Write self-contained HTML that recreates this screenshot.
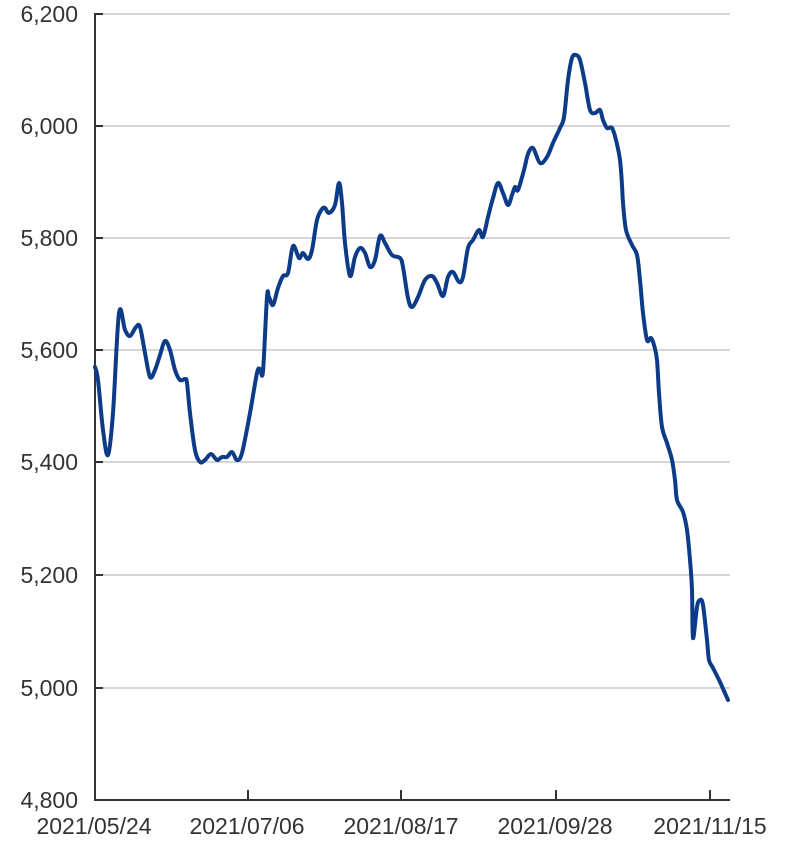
<!DOCTYPE html>
<html>
<head>
<meta charset="utf-8">
<style>
  html, body { margin: 0; padding: 0; background: #ffffff; }
  body { width: 800px; height: 852px; overflow: hidden; }
  svg { display: block; }
  text { font-family: "Liberation Sans", sans-serif; fill: #333333; font-size: 23px; }
</style>
</head>
<body>
<svg id="chart" width="800" height="852" viewBox="0 0 800 852" xmlns="http://www.w3.org/2000/svg">
  <g stroke="#c9c9c9" stroke-width="1.5">
    <line x1="95" y1="14" x2="730" y2="14"/>
    <line x1="95" y1="126" x2="730" y2="126"/>
    <line x1="95" y1="238" x2="730" y2="238"/>
    <line x1="95" y1="350" x2="730" y2="350"/>
    <line x1="95" y1="462" x2="730" y2="462"/>
    <line x1="95" y1="575" x2="730" y2="575"/>
    <line x1="95" y1="688" x2="730" y2="688"/>
  </g>
  <g stroke="#333333" stroke-width="2">
    <line x1="95" y1="13" x2="95" y2="801"/>
    <line x1="94" y1="800" x2="730" y2="800"/>
    <line x1="95" y1="14" x2="103" y2="14"/>
    <line x1="95" y1="126" x2="103" y2="126"/>
    <line x1="95" y1="238" x2="103" y2="238"/>
    <line x1="95" y1="350" x2="103" y2="350"/>
    <line x1="95" y1="462" x2="103" y2="462"/>
    <line x1="95" y1="575" x2="103" y2="575"/>
    <line x1="95" y1="688" x2="103" y2="688"/>
    <line x1="248" y1="790" x2="248" y2="800"/>
    <line x1="401" y1="790" x2="401" y2="800"/>
    <line x1="556" y1="790" x2="556" y2="800"/>
    <line x1="710" y1="790" x2="710" y2="800"/>
  </g>
  <g text-anchor="end">
    <text x="78" y="22">6,200</text>
    <text x="78" y="134">6,000</text>
    <text x="78" y="246">5,800</text>
    <text x="78" y="358">5,600</text>
    <text x="78" y="470">5,400</text>
    <text x="78" y="583">5,200</text>
    <text x="78" y="696">5,000</text>
    <text x="78" y="808">4,800</text>
  </g>
  <g text-anchor="middle">
    <text x="94" y="834">2021/05/24</text>
    <text x="247" y="834">2021/07/06</text>
    <text x="401" y="834">2021/08/17</text>
    <text x="555" y="834">2021/09/28</text>
    <text x="710" y="834">2021/11/15</text>
  </g>
  <polyline id="series" fill="none" stroke="#0c3b87" stroke-width="4" stroke-linejoin="round" stroke-linecap="round"
    points="95,367 98,380 103,430 108,455 113,413 119,313 125,330 130,336 136,327 140,327 145,353 150,377 155,370 160,355 165,341 170,350 175,370 180,380 185,379 187,383 190,413 195,450 200,462 205,460 211,454 217,460 222,457 227,457 232,452 237,460 242,453 250,413 257,373 260,369 263,371 267,297 269,297 273,305 278,288 283,276 288,273 293,246 299,258 303,253 308,259 312,250 317,220 322,209 325,208 329,213 335,205 339,183 342,203 345,243 350,276 355,257 360,248 365,253 370,267 375,260 380,236 385,243 392,255 400,258 403,267 408,298 412,307 418,297 425,280 432,276 437,283 443,296 448,277 453,272 459,282 463,277 468,248 473,240 479,230 483,237 488,217 493,198 498,183 503,193 508,205 512,195 515,187 518,190 524,170 528,154 533,148 540,163 547,157 553,143 560,128 564,117 568,80 572,58 576,55 580,60 585,83 590,110 595,113 600,110 603,120 607,128 612,128 616,140 620,160 622,185 623,203 626,230 632,245 637,255 640,280 643,313 647,340 651,338 654,345 657,360 659,393 662,427 667,443 672,460 675,480 677,500 683,512 687,530 690,560 692,590 693,638 697,607 700,600 703,605 707,640 709,660 713,668 720,682 728,700"/>
</svg>
<script>
(function(){
  try {
    var pl = document.getElementById('series');
    var raw = pl.getAttribute('points').trim().split(/\s+/).map(function(s){var a=s.split(',');return [+a[0],+a[1]];});
    var t = 0.5;
    var d = 'M' + raw[0][0] + ',' + raw[0][1];
    for (var i = 0; i < raw.length - 1; i++) {
      var p0 = raw[i-1] || raw[i], p1 = raw[i], p2 = raw[i+1], p3 = raw[i+2] || raw[i+1];
      var c1x = p1[0] + (p2[0]-p0[0])/6*t*2, c1y = p1[1] + (p2[1]-p0[1])/6*t*2;
      var c2x = p2[0] - (p3[0]-p1[0])/6*t*2, c2y = p2[1] - (p3[1]-p1[1])/6*t*2;
      d += 'C' + c1x.toFixed(2) + ',' + c1y.toFixed(2) + ' ' + c2x.toFixed(2) + ',' + c2y.toFixed(2) + ' ' + p2[0] + ',' + p2[1];
    }
    var path = document.createElementNS('http://www.w3.org/2000/svg','path');
    path.setAttribute('d', d);
    path.setAttribute('fill','none');
    path.setAttribute('stroke','#0c3b87');
    path.setAttribute('stroke-width','4');
    path.setAttribute('stroke-linejoin','round');
    path.setAttribute('stroke-linecap','round');
    pl.parentNode.replaceChild(path, pl);
  } catch(e) {}
})();
</script>
</body>
</html>
